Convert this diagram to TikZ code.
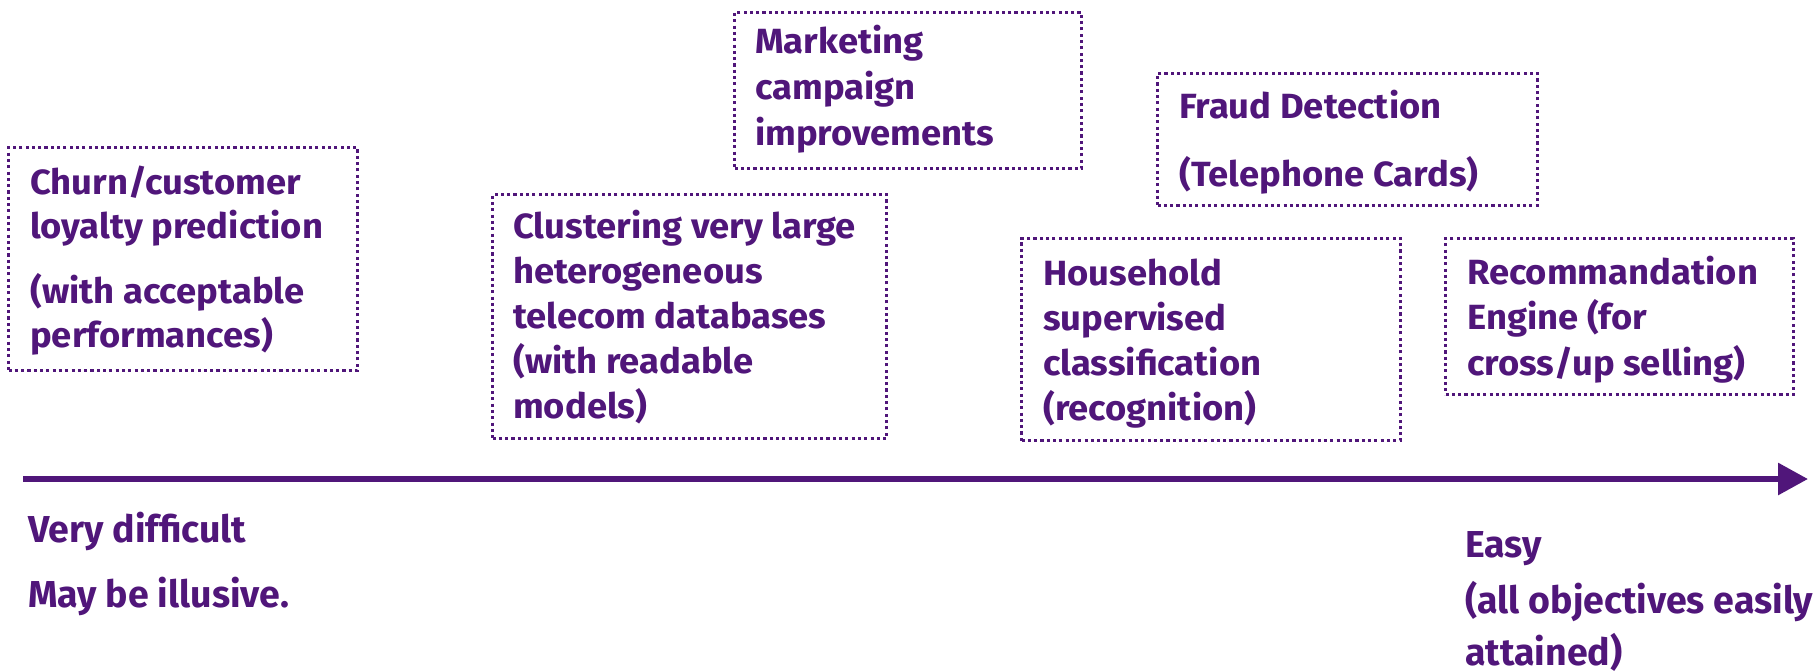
\documentclass[tikz,border=0pt]{standalone}
\usepackage{fontspec}
\setmainfont{Fira Sans}
\newfontfamily\cardfont{Fira Sans}[FakeStretch=1.04]
\usetikzlibrary{arrows.meta}
\definecolor{plum}{RGB}{80,22,122}
\begin{document}
\begin{tikzpicture}[x=1pt,y=-1pt,
  card/.style={draw=plum, line width=3.1pt, dash pattern=on 3.1pt off 3.2pt,
    anchor=north west, inner sep=0pt, minimum width=#1},
  % multi-line nodes: the base anchor sits on the baseline of the last line
  cardtext/.style={anchor=base west, align=left, inner sep=0pt, text=plum,
    font=\cardfont\bfseries\fontsize{35}{45}\selectfont},
  axistext/.style={anchor=base west, align=left, inner sep=0pt, text=plum,
    font=\bfseries\fontsize{37.5}{52}\selectfont},
  axis/.style={draw=plum, line width=6pt, -{Triangle[length=30pt,width=31pt]}}
]
\useasboundingbox (0,0) rectangle (1820,671);

% dotted frames
\node[card=349pt, minimum height=223pt] (churnbox) at (7,146) {};
\node[card=347pt, minimum height=156pt] (mktbox)   at (733,11) {};
\node[card=394pt, minimum height=244pt] (clubox)   at (491,193) {};
\node[card=380pt, minimum height=132pt] (fraudbox) at (1156,72) {};
\node[card=379pt, minimum height=202pt] (housebox) at (1020,237) {};
\node[card=348pt, minimum height=156pt] (recobox)  at (1444,237) {};

% frame contents (positioned by the baseline of their last line)
\node[cardtext, font=\cardfont\bfseries\fontsize{35}{44}\selectfont] (churn) at (30,347)
  {Churn/customer\\loyalty prediction\\[21pt](with acceptable\\performances)};
\node[cardtext, font=\cardfont\bfseries\fontsize{35}{46}\selectfont] (mkt) at (755,146)
  {Marketing\\campaign\\improvements};
\node[cardtext] (clu) at (513,418)
  {Clustering very large\\heterogeneous\\telecom databases\\(with readable\\models)};
\node[cardtext] (fraud) at (1179,187)
  {Fraud Detection\\[23pt](Telephone Cards)};
\node[cardtext] (house) at (1043,420)
  {Household\\supervised\\classification\\(recognition)};
\node[cardtext, font=\cardfont\bfseries\fontsize{35}{45.5}\selectfont] (reco) at (1467,375)
  {Recommandation\\Engine (for\\cross/up selling)};

% difficulty axis
\coordinate (axstart) at (23,479);
\coordinate (axend) at (1808,479);
\draw[axis] (axstart) -- (axend);

\node[axistext] (hard) at (28,607) {Very difficult\\[13pt]May be illusive.};
\node[axistext] (easy) at (1465,557) {Easy};
\node[axistext] (easynote) at (1465,665) {(all objectives easily\\attained)};
\end{tikzpicture}
\end{document}
